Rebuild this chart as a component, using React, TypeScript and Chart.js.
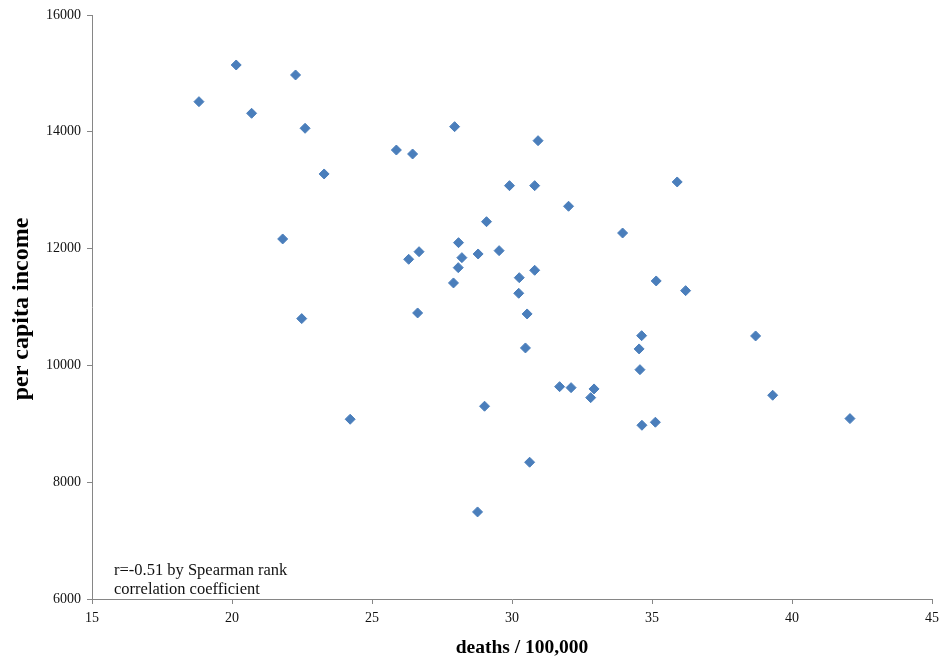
import { useEffect, useRef } from "react";
import { Chart, registerables } from "chart.js";

Chart.register(...registerables);

// deaths / 100,000 (x) and per capita income (y), one entry per point
const deaths = [
  20.15, 22.27, 18.82, 20.7, 22.61, 25.87, 26.45, 23.29, 21.81, 26.68,
  26.31, 27.95, 30.93, 29.91, 30.81, 32.02, 29.09, 28.09, 28.21, 28.79,
  29.54, 28.08, 30.81, 30.26, 27.91, 22.49, 26.63, 24.22, 30.24, 30.54,
  30.48, 31.7, 32.11, 32.93, 32.81, 29.02, 30.63, 28.77, 35.9, 33.95,
  35.15, 36.2, 34.63, 38.7, 34.54, 34.57, 39.31, 42.07, 34.64, 35.12,
];
const income = [
  15144, 14973, 14516, 14317, 14060, 13688, 13620, 13278, 12165, 11947,
  11817, 14088, 13848, 13078, 13078, 12725, 12461, 12102, 11845, 11908,
  11965, 11674, 11629, 11502, 11412, 10801, 10898, 9078, 11235, 10881,
  10299, 9636, 9619, 9597, 9448, 9301, 8342, 7491, 13141, 12267,
  11446, 11280, 10509, 10504, 10282, 9927, 9489, 9089, 8975, 9027,
];

const xRange = [15, 45];
const xStep = 5;
const yRange = [6000, 16000];
const yStep = 2000;

const xTitle = "deaths / 100,000";
const yTitle = "per capita income";
const noteLines = ["r=-0.51 by Spearman rank", "correlation coefficient"];

const SERIF = "'Liberation Serif', 'Times New Roman', serif";
const AXIS = "#868686";
const POINT = "#4a7ebb";

export default function App() {
  const ref = useRef<HTMLCanvasElement | null>(null);

  useEffect(() => {
    document.body.style.margin = "0";
    const canvas = ref.current;
    if (!canvas) return;

    const textPlugin = {
      id: "texts",
      afterDraw(chart: any) {
        const { ctx, chartArea } = chart;
        ctx.save();
        // annotation
        ctx.font = `16.5px ${SERIF}`;
        ctx.fillStyle = "#111";
        ctx.textAlign = "left";
        ctx.textBaseline = "middle";
        ctx.fillText(noteLines[0], chartArea.left + 22, chartArea.bottom - 28);
        ctx.fillText(noteLines[1], chartArea.left + 22, chartArea.bottom - 9);
        // x axis title
        ctx.fillStyle = "#000";
        ctx.textAlign = "center";
        ctx.font = `bold 19.5px ${SERIF}`;
        ctx.fillText(xTitle, (chartArea.left + chartArea.right) / 2 + 10, chartArea.bottom + 49);
        // y axis title
        ctx.translate(22, (chartArea.top + chartArea.bottom) / 2 + 2);
        ctx.rotate(-Math.PI / 2);
        ctx.font = `bold 24px ${SERIF}`;
        ctx.fillText(yTitle, 0, 0);
        ctx.restore();
      },
    };

    const chart = new Chart(canvas, {
      type: "scatter",
      data: {
        datasets: [
          {
            data: deaths.map((d, i) => ({ x: d, y: income[i] })),
            pointStyle: "rectRot",
            pointRadius: 5,
            pointHoverRadius: 5,
            backgroundColor: POINT,
            borderColor: POINT,
            borderWidth: 1,
          },
        ],
      },
      options: {
        responsive: false,
        animation: false,
        devicePixelRatio: 1,
        layout: { padding: { top: 15, right: 13, bottom: 0, left: 0 } },
        plugins: {
          legend: { display: false },
          tooltip: { enabled: false },
        },
        scales: {
          x: {
            type: "linear",
            min: xRange[0],
            max: xRange[1],
            ticks: {
              stepSize: xStep,
              font: { family: SERIF, size: 14 },
              color: "#111",
              padding: 6,
              maxRotation: 0,
              callback: (v: any) => String(v),
            },
            grid: {
              drawOnChartArea: false,
              drawTicks: true,
              tickLength: 5,
              color: AXIS,
            },
            border: { color: AXIS, width: 1 },
            afterFit: (s: any) => {
              s.height = 65;
            },
          },
          y: {
            type: "linear",
            min: yRange[0],
            max: yRange[1],
            ticks: {
              stepSize: yStep,
              font: { family: SERIF, size: 14 },
              color: "#111",
              padding: 6,
              callback: (v: any) => String(v),
            },
            grid: {
              drawOnChartArea: false,
              drawTicks: true,
              tickLength: 5,
              color: AXIS,
            },
            border: { color: AXIS, width: 1 },
            afterFit: (s: any) => {
              s.width = 92;
            },
          },
        },
      },
      plugins: [textPlugin],
    } as any);

    return () => chart.destroy();
  }, []);

  return (
    <div style={{ width: 945, height: 664 }}>
      <canvas ref={ref} width={945} height={664} style={{ display: "block" }} />
    </div>
  );
}
